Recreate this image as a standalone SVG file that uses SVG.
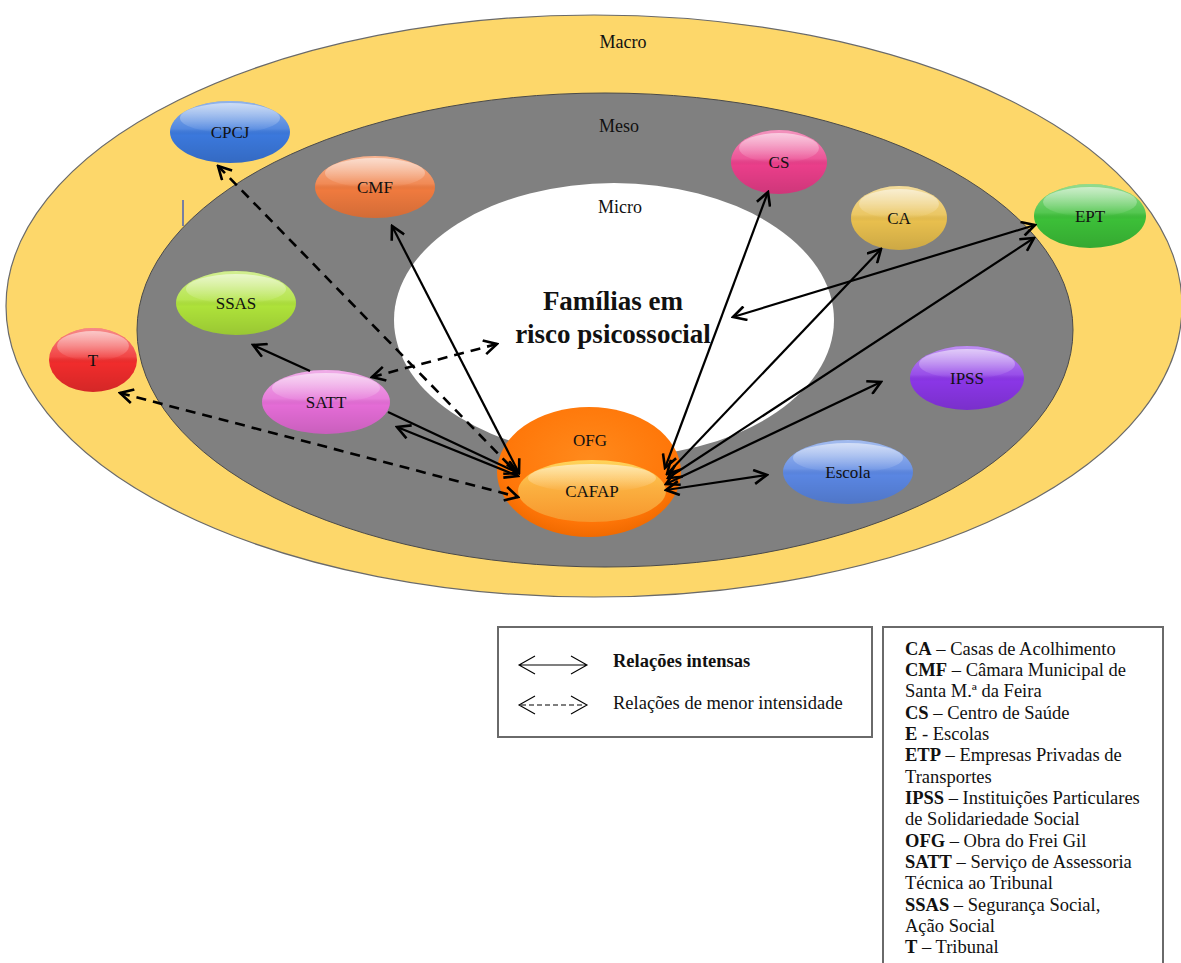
<svg xmlns="http://www.w3.org/2000/svg" width="1181" height="963" viewBox="0 0 1181 963">
<style>
.lbl{font-family:"Liberation Serif","Times New Roman",serif;font-size:17px;fill:#111;text-anchor:middle}
.ring{font-family:"Liberation Serif","Times New Roman",serif;font-size:18px;fill:#111;text-anchor:middle}
.fam{font-family:"Liberation Serif","Times New Roman",serif;font-size:27px;font-weight:bold;fill:#111;text-anchor:middle}
.leg{font-family:"Liberation Serif","Times New Roman",serif;font-size:18.5px;fill:#111}
.solid{fill:none;stroke:#000;stroke-width:2.2}
.dash{fill:none;stroke:#000;stroke-width:2.6;stroke-dasharray:10 7}
</style>
<defs>
<linearGradient id="gloss" x1="0" y1="0" x2="0" y2="1">
<stop offset="0" stop-color="#fff" stop-opacity="0.45"/>
<stop offset="0.45" stop-color="#fff" stop-opacity="0.12"/>
<stop offset="0.55" stop-color="#000" stop-opacity="0"/>
<stop offset="1" stop-color="#000" stop-opacity="0.12"/>
</linearGradient>
<linearGradient id="hl" x1="0" y1="0" x2="0" y2="1">
<stop offset="0" stop-color="#fff" stop-opacity="0.55"/>
<stop offset="1" stop-color="#fff" stop-opacity="0"/>
</linearGradient>
<radialGradient id="ofgfill" cx="0.5" cy="0.4" r="0.6">
<stop offset="0" stop-color="#ff8a1c"/>
<stop offset="0.8" stop-color="#ff7608"/>
<stop offset="1" stop-color="#f06a00"/>
</radialGradient>
<linearGradient id="cafapfill" x1="0" y1="0" x2="0" y2="1">
<stop offset="0" stop-color="#ffd45a"/>
<stop offset="0.45" stop-color="#fbb040"/>
<stop offset="1" stop-color="#f7962c"/>
</linearGradient>
<marker id="ah" viewBox="0 0 16 16" refX="14" refY="8" markerWidth="16" markerHeight="16" markerUnits="userSpaceOnUse" orient="auto-start-reverse">
<path d="M1,1 L14,8 L1,15" fill="none" stroke="#000" stroke-width="2.6"/>
</marker>
</defs>

<g id="rings">
<ellipse cx="594" cy="306" rx="588" ry="291" fill="#fdd76a" stroke="#6a6a6a" stroke-width="1.2"/>
<ellipse cx="605" cy="330" rx="468" ry="237" fill="#808080" stroke="#4a4a4a" stroke-width="1"/>
<ellipse cx="614" cy="320" rx="220" ry="137" fill="#ffffff"/>
<text class="ring" x="623" y="48">Macro</text>
<text class="ring" x="619" y="132">Meso</text>
<text class="ring" x="620" y="213">Micro</text>
<line x1="183" y1="200" x2="183" y2="226" stroke="#3050c0" stroke-width="1.3"/>
</g>

<g id="familias">
<text class="fam" x="613" y="310">Famílias em</text>
<text class="fam" x="613" y="343">risco psicossocial</text>
</g>

<g id="node-cpcj">
<ellipse cx="230" cy="132" rx="60" ry="31" fill="#3b78dc"/>
<ellipse cx="230" cy="132" rx="60" ry="31" fill="url(#gloss)"/>
<ellipse cx="230" cy="118" rx="50" ry="15" fill="url(#hl)"/>
<text class="lbl" x="230" y="138">CPCJ</text>
</g>
<g id="node-cmf">
<ellipse cx="375" cy="187" rx="60" ry="31" fill="#ef7a3e"/>
<ellipse cx="375" cy="187" rx="60" ry="31" fill="url(#gloss)"/>
<ellipse cx="375" cy="173" rx="50" ry="15" fill="url(#hl)"/>
<text class="lbl" x="375" y="193">CMF</text>
</g>
<g id="node-ssas">
<ellipse cx="236" cy="303" rx="60" ry="32" fill="#aee23a"/>
<ellipse cx="236" cy="303" rx="60" ry="32" fill="url(#gloss)"/>
<ellipse cx="236" cy="289" rx="50" ry="15" fill="url(#hl)"/>
<text class="lbl" x="236" y="309">SSAS</text>
</g>
<g id="node-t">
<ellipse cx="93" cy="360" rx="44" ry="32" fill="#f02c2c"/>
<ellipse cx="93" cy="360" rx="44" ry="32" fill="url(#gloss)"/>
<ellipse cx="93" cy="346" rx="36" ry="15" fill="url(#hl)"/>
<text class="lbl" x="93" y="366">T</text>
</g>
<g id="node-satt">
<ellipse cx="326" cy="402" rx="64" ry="32" fill="#e46cd6"/>
<ellipse cx="326" cy="402" rx="64" ry="32" fill="url(#gloss)"/>
<ellipse cx="326" cy="388" rx="54" ry="15" fill="url(#hl)"/>
<text class="lbl" x="326" y="408">SATT</text>
</g>
<g id="node-cs">
<ellipse cx="779" cy="162" rx="48" ry="32" fill="#ea3e8a"/>
<ellipse cx="779" cy="162" rx="48" ry="32" fill="url(#gloss)"/>
<ellipse cx="779" cy="148" rx="40" ry="15" fill="url(#hl)"/>
<text class="lbl" x="779" y="168">CS</text>
</g>
<g id="node-ca">
<ellipse cx="899" cy="218" rx="48" ry="32" fill="#e8bf4e"/>
<ellipse cx="899" cy="218" rx="48" ry="32" fill="url(#gloss)"/>
<ellipse cx="899" cy="204" rx="40" ry="15" fill="url(#hl)"/>
<text class="lbl" x="899" y="224">CA</text>
</g>
<g id="node-ept">
<ellipse cx="1090" cy="216" rx="56" ry="32" fill="#3cbf38"/>
<ellipse cx="1090" cy="216" rx="56" ry="32" fill="url(#gloss)"/>
<ellipse cx="1090" cy="202" rx="47" ry="15" fill="url(#hl)"/>
<text class="lbl" x="1090" y="222">EPT</text>
</g>
<g id="node-ipss">
<ellipse cx="967" cy="378" rx="57" ry="32" fill="#8a36e6"/>
<ellipse cx="967" cy="378" rx="57" ry="32" fill="url(#gloss)"/>
<ellipse cx="967" cy="364" rx="48" ry="15" fill="url(#hl)"/>
<text class="lbl" x="967" y="384">IPSS</text>
</g>
<g id="node-escola">
<ellipse cx="848" cy="472" rx="65" ry="32" fill="#5a86e2"/>
<ellipse cx="848" cy="472" rx="65" ry="32" fill="url(#gloss)"/>
<ellipse cx="848" cy="458" rx="55" ry="15" fill="url(#hl)"/>
<text class="lbl" x="848" y="478">Escola</text>
</g>
<g id="node-ofg">
<ellipse cx="589" cy="472" rx="92" ry="65" fill="url(#ofgfill)"/>
<text class="lbl" x="590" y="446">OFG</text>
</g>
<g id="node-cafap">
<ellipse cx="592" cy="491" rx="74" ry="31" fill="url(#cafapfill)"/>
<ellipse cx="592" cy="478" rx="64" ry="14" fill="url(#hl)"/>
<text class="lbl" x="592" y="497">CAFAP</text>
</g>

<g id="connectors">
<path class="solid" d="M392,226 L519,473" marker-start="url(#ah)" marker-end="url(#ah)"/>
<path class="solid" d="M768,192 L665,468" marker-start="url(#ah)" marker-end="url(#ah)"/>
<path class="solid" d="M733,317 L1035,225" marker-start="url(#ah)" marker-end="url(#ah)"/>
<path class="solid" d="M881,249 L667,474" marker-start="url(#ah)" marker-end="url(#ah)"/>
<path class="solid" d="M1034,238 L668,478" marker-start="url(#ah)" marker-end="url(#ah)"/>
<path class="solid" d="M881,382 L666,484" marker-start="url(#ah)" marker-end="url(#ah)"/>
<path class="solid" d="M767,475 L666,490" marker-start="url(#ah)" marker-end="url(#ah)"/>
<path class="solid" d="M397,427 L518,476" marker-start="url(#ah)" marker-end="url(#ah)"/>
<path class="solid" d="M388,412 L518,473" marker-end="url(#ah)"/>
<path class="solid" d="M310,371 L253,345" marker-end="url(#ah)"/>
<path class="dash" d="M218,166 L512,468" marker-start="url(#ah)"/>
<path class="dash" d="M120,393 L518,497" marker-start="url(#ah)" marker-end="url(#ah)"/>
<path class="dash" d="M372,377 L497,344" marker-start="url(#ah)" marker-end="url(#ah)"/>
</g>

<g id="legend-lines">
<rect x="498" y="627" width="374" height="110" fill="#fff" stroke="#6a6a6a" stroke-width="2"/>
<path d="M519,665 L587,665 M535,656 L519,665 L535,674 M571,656 L587,665 L571,674" fill="none" stroke="#000" stroke-width="1.1"/>
<path d="M521,705 L585,705" fill="none" stroke="#000" stroke-width="1.1" stroke-dasharray="5 3"/>
<path d="M535,696 L519,705 L535,714 M571,696 L587,705 L571,714" fill="none" stroke="#000" stroke-width="1.1"/>
<text class="leg" x="613" y="667" font-weight="bold">Relações intensas</text>
<text class="leg" x="613" y="709">Relações de menor intensidade</text>
</g>

<g id="legend-abbrev">
<rect x="883" y="627" width="280" height="345" fill="#fff" stroke="#6a6a6a" stroke-width="2"/>
<text class="leg" x="905" y="655"><tspan font-weight="bold">CA</tspan> – Casas de Acolhimento</text>
<text class="leg" x="905" y="676"><tspan font-weight="bold">CMF</tspan> – Câmara Municipal de</text>
<text class="leg" x="905" y="697">Santa M.ª da Feira</text>
<text class="leg" x="905" y="719"><tspan font-weight="bold">CS</tspan> – Centro de Saúde</text>
<text class="leg" x="905" y="740"><tspan font-weight="bold">E</tspan> - Escolas</text>
<text class="leg" x="905" y="761"><tspan font-weight="bold">ETP</tspan> – Empresas Privadas de</text>
<text class="leg" x="905" y="783">Transportes</text>
<text class="leg" x="905" y="804"><tspan font-weight="bold">IPSS</tspan> – Instituições Particulares</text>
<text class="leg" x="905" y="825">de Solidariedade Social</text>
<text class="leg" x="905" y="847"><tspan font-weight="bold">OFG</tspan> – Obra do Frei Gil</text>
<text class="leg" x="905" y="868"><tspan font-weight="bold">SATT</tspan> – Serviço de Assessoria</text>
<text class="leg" x="905" y="889">Técnica ao Tribunal</text>
<text class="leg" x="905" y="911"><tspan font-weight="bold">SSAS</tspan> – Segurança Social,</text>
<text class="leg" x="905" y="932">Ação Social</text>
<text class="leg" x="905" y="953"><tspan font-weight="bold">T</tspan> – Tribunal</text>
</g>
</svg>
